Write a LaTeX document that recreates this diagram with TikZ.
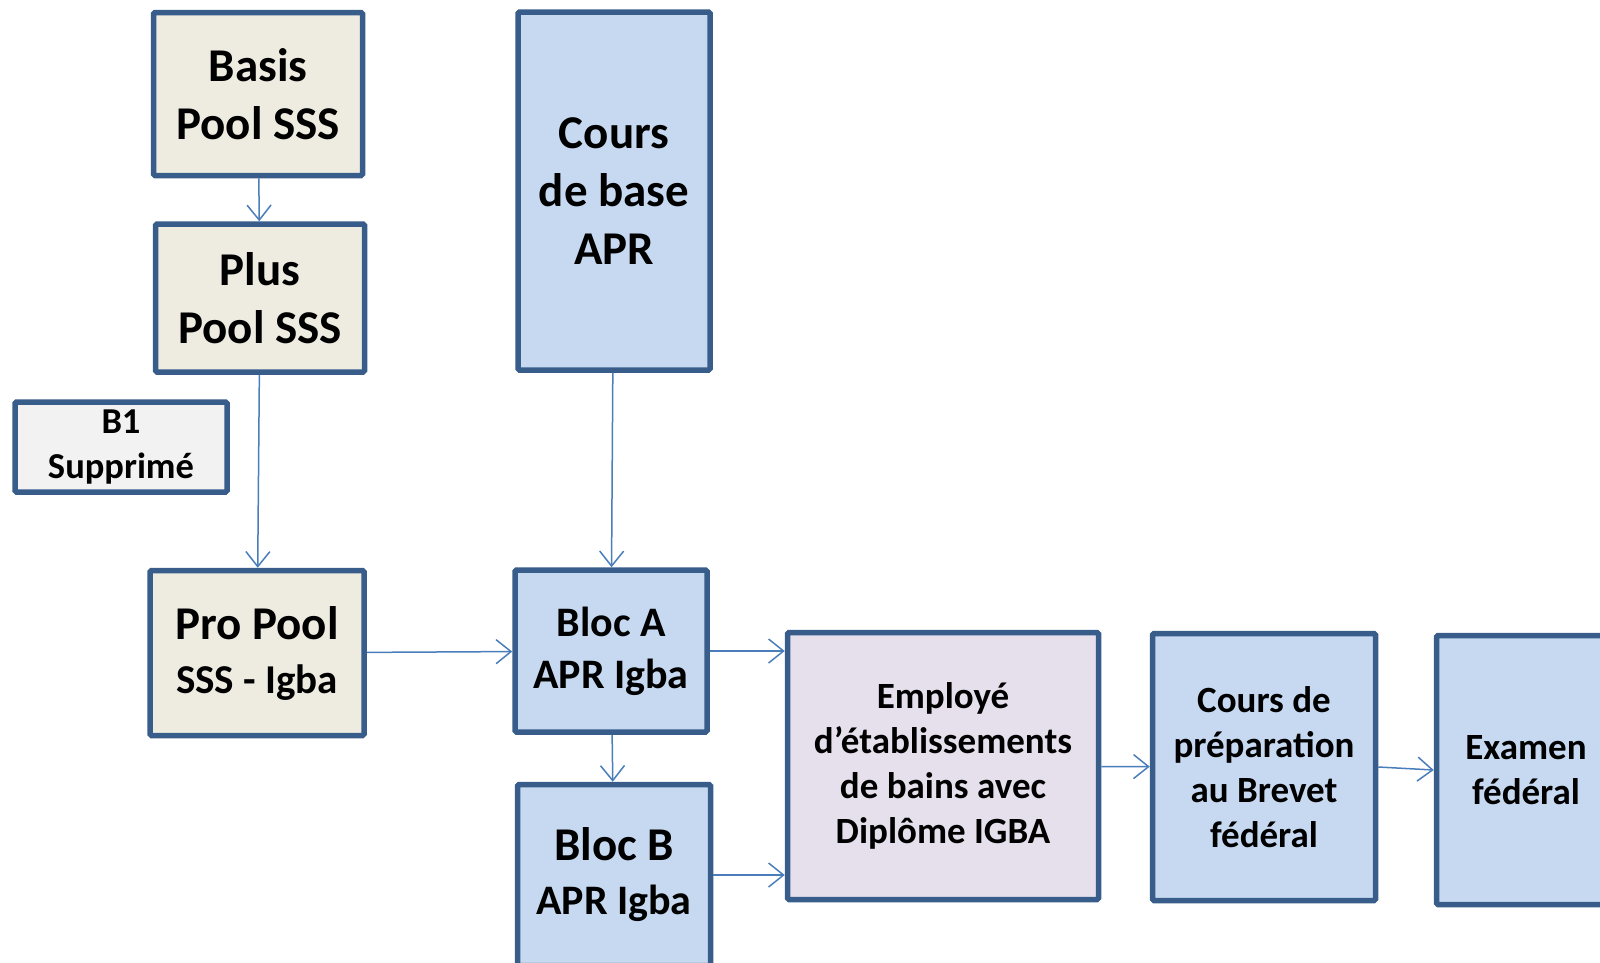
\documentclass[tikz,border=0pt]{standalone}
\usepackage{fontspec}
\setmainfont{Carlito}
\usepackage{tikz}
\usetikzlibrary{positioning, arrows.meta}

\definecolor{boxline}{HTML}{385D8A}
\definecolor{flowline}{HTML}{4A7EBB}
\definecolor{poolfill}{HTML}{EEECE1}
\definecolor{aprfill}{HTML}{C6D9F1}
\definecolor{emplfill}{HTML}{E5E0EC}
\definecolor{delfill}{HTML}{F2F2F2}

\tikzset{
    box/.style={draw=boxline, line width=5.5pt, rounded corners=1.5pt, align=center, inner sep=0pt},
    poolbox/.style={box, fill=poolfill},
    aprbox/.style={box, fill=aprfill},
    emplbox/.style={box, fill=emplfill},
    delbox/.style={box, fill=delfill},
    bigtext/.style={font=\bfseries\fontsize{47}{58}\selectfont},
    bloctext/.style={font=\bfseries\fontsize{42}{54}\selectfont},
    smalltext/.style={font=\bfseries\fontsize{37}{45}\selectfont},
    flow/.style={draw=flowline, line width=1.5pt, -{Straight Barb[length=15pt, width=24pt, line width=1.5pt]}}
}

\begin{document}
\begin{tikzpicture}[x=1pt, y=-1pt]
        \clip (0,0) rectangle (1600,962);

        \node[poolbox, bigtext, minimum width=209pt, minimum height=163pt] (basis) at (258,94) {Basis\\Pool SSS};
        \node[poolbox, bigtext, minimum width=209pt, minimum height=148pt] (plus) at (260,298) {Plus\\Pool SSS};
        \node[delbox, font=\bfseries\fontsize{36.5}{45}\selectfont, minimum width=212pt, minimum height=90pt] (b1) at (121,447) {B1\\Supprimé};
        \node[poolbox, bigtext, minimum width=214pt, minimum height=165pt] (propool) at (257,653) {Pro Pool\\[-4pt]{\fontsize{41}{50}\selectfont SSS - Igba}};

        \node[aprbox, bigtext, minimum width=192pt, minimum height=358pt] (coursbase) at (614,191) {Cours\\de base\\APR};
        \node[aprbox, font=\bfseries\fontsize{42}{52}\selectfont, minimum width=192pt, minimum height=162pt] (blocA) at (611,651) {Bloc A\\APR Igba};
        \node[aprbox, bloctext, minimum width=193pt, minimum height=181pt] (blocB) at (614,875) {{\fontsize{47}{54}\selectfont Bloc B}\\APR Igba};

        \node[emplbox, smalltext, minimum width=311pt, minimum height=267pt] (empl) at (943,766) {Employé\\d’établissements\\de bains avec\\Diplôme IGBA};
        \node[aprbox, smalltext, minimum width=223pt, minimum height=267pt] (prep) at (1264,767) {Cours de\\préparation\\au Brevet\\fédéral};
        \node[aprbox, smalltext, minimum width=179pt, minimum height=269pt] (exam) at (1526,770) {Examen\\fédéral};

        \draw[flow] (basis) -- (plus);
        \draw[flow] (plus) -- (propool);
        \draw[flow] (coursbase) -- (blocA);
        \draw[flow] (propool) -- (blocA);
        \draw[flow] (blocA) -- (blocB);
        \draw[flow] (blocA.east) -- (blocA.east -| empl.west);
        \draw[flow] (blocB.east) -- (blocB.east -| empl.west);
        \draw[flow] (empl) -- (prep);
        \draw[flow] (prep.east) -- (exam.west);
    \end{tikzpicture}
\end{document}
